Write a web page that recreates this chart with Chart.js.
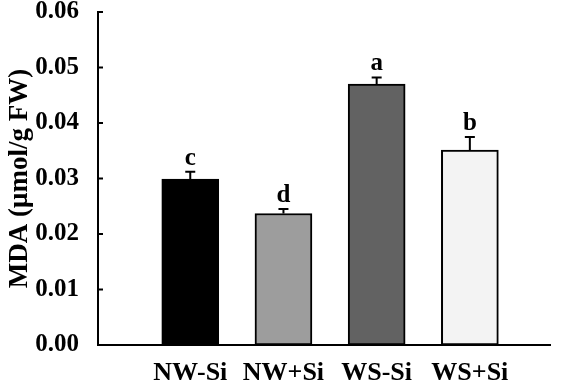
<!DOCTYPE html>
<html>
<head>
<meta charset="utf-8">
<script src="https://cdn.jsdelivr.net/npm/chart.js@4/dist/chart.umd.min.js"></script>
<style>
  html, body { margin: 0; padding: 0; background: #fff; }
  #mdachart { display: block; }
</style>
</head>
<body>
<canvas id="mdachart" width="567" height="386"></canvas>
<script>
// treatments on the x axis
var categories = ['NW-Si', 'NW+Si', 'WS-Si', 'WS+Si'];
// MDA content (µmol/g FW)
var mdaMeans = [0.0299, 0.0237, 0.0470, 0.0351];
var mdaErrors = [0.0013, 0.0008, 0.0012, 0.0024];
var sigLetters = ['c', 'd', 'a', 'b'];
var barColors = ['#000000', '#9d9d9d', '#626262', '#f3f3f3'];
var yTickValues = [0, 0.01, 0.02, 0.03, 0.04, 0.05, 0.06];

var FONT = '"Liberation Serif", "Times New Roman", serif';

// upper-only error bars plus the letters above them
var errorBarPlugin = {
  id: 'errorBars',
  afterDatasetsDraw: function (chart) {
    var ctx = chart.ctx;
    var meta = chart.getDatasetMeta(0);
    var yScale = chart.scales.y;
    ctx.save();
    ctx.strokeStyle = '#000';
    ctx.lineWidth = 2;
    ctx.fillStyle = '#000';
    ctx.font = 'bold 25px ' + FONT;
    ctx.textAlign = 'center';
    ctx.textBaseline = 'bottom';
    meta.data.forEach(function (bar, i) {
      var yTop = yScale.getPixelForValue(mdaMeans[i]);
      var yErr = yScale.getPixelForValue(mdaMeans[i] + mdaErrors[i]);
      ctx.beginPath();
      ctx.moveTo(bar.x, yTop);
      ctx.lineTo(bar.x, yErr);
      ctx.moveTo(bar.x - 5, yErr);
      ctx.lineTo(bar.x + 5, yErr);
      ctx.stroke();
      ctx.fillText(sigLetters[i], bar.x, yErr - 1);
    });
    ctx.restore();
  }
};

// tick marks on the y axis point into the plot
var innerTicksPlugin = {
  id: 'innerTicks',
  afterDraw: function (chart) {
    var ctx = chart.ctx;
    var yScale = chart.scales.y;
    var left = chart.chartArea.left;
    ctx.save();
    ctx.strokeStyle = '#000';
    ctx.lineWidth = 2;
    yTickValues.forEach(function (v) {
      var y = yScale.getPixelForValue(v);
      ctx.beginPath();
      ctx.moveTo(left, y);
      ctx.lineTo(left + 5, y);
      ctx.stroke();
    });
    ctx.restore();
  }
};

function drawBarChart(canvas) {
  var data = {
    datasets: [{
      data: mdaMeans.map(function (v, i) { return { x: i, y: v }; }),
      backgroundColor: barColors,
      borderColor: '#000',
      borderWidth: 2,
      borderSkipped: false,
      barThickness: 57,
    }],
  };

  var options = {
    responsive: false,
    animation: false,
    layout: { padding: { top: 12, right: 17, left: 0, bottom: 0 } },
    plugins: {
      legend: { display: false },
      tooltip: { enabled: false },
    },
    scales: {
      x: {
        type: 'linear',
        offset: false,
        min: -0.99,
        max: 3.86,
        afterBuildTicks: function (scale) {
          scale.ticks = categories.map(function (c, i) { return { value: i }; });
        },
        afterFit: function (scale) {
          scale.height = 41;
          scale.paddingLeft = 0;
          scale.paddingRight = 0;
        },
        grid: { display: false },
        border: { display: true, color: '#000', width: 2 },
        ticks: {
          padding: 5,
          color: '#000',
          autoSkip: false,
          maxRotation: 0,
          font: { family: FONT, weight: 'bold', size: 26 },
          callback: function (v) { return categories[v]; },
        },
      },
      y: {
        min: 0,
        max: 0.06,
        afterBuildTicks: function (scale) {
          scale.ticks = yTickValues.map(function (v) { return { value: v }; });
        },
        afterFit: function (scale) {
          // keep the plot edges where the figure has them
          scale.width = 98;
          scale.paddingTop = 0;
          scale.paddingBottom = 0;
        },
        grid: { display: false },
        border: { display: true, color: '#000', width: 2 },
        ticks: {
          padding: 11,
          color: '#000',
          font: { family: FONT, weight: 'bold', size: 25 },
          callback: function (v) { return v.toFixed(2); },
        },
        title: {
          display: true,
          text: 'MDA (μmol/g FW)',
          color: '#000',
          padding: { top: 4, bottom: 0 },
          font: { family: FONT, weight: 'bold', size: 27 },
        },
      },
    },
  };

  return new Chart(canvas, {
    type: 'bar',
    data: data,
    options: options,
    plugins: [errorBarPlugin, innerTicksPlugin],
  });
}

drawBarChart(document.getElementById('mdachart'));
</script>
</body>
</html>
